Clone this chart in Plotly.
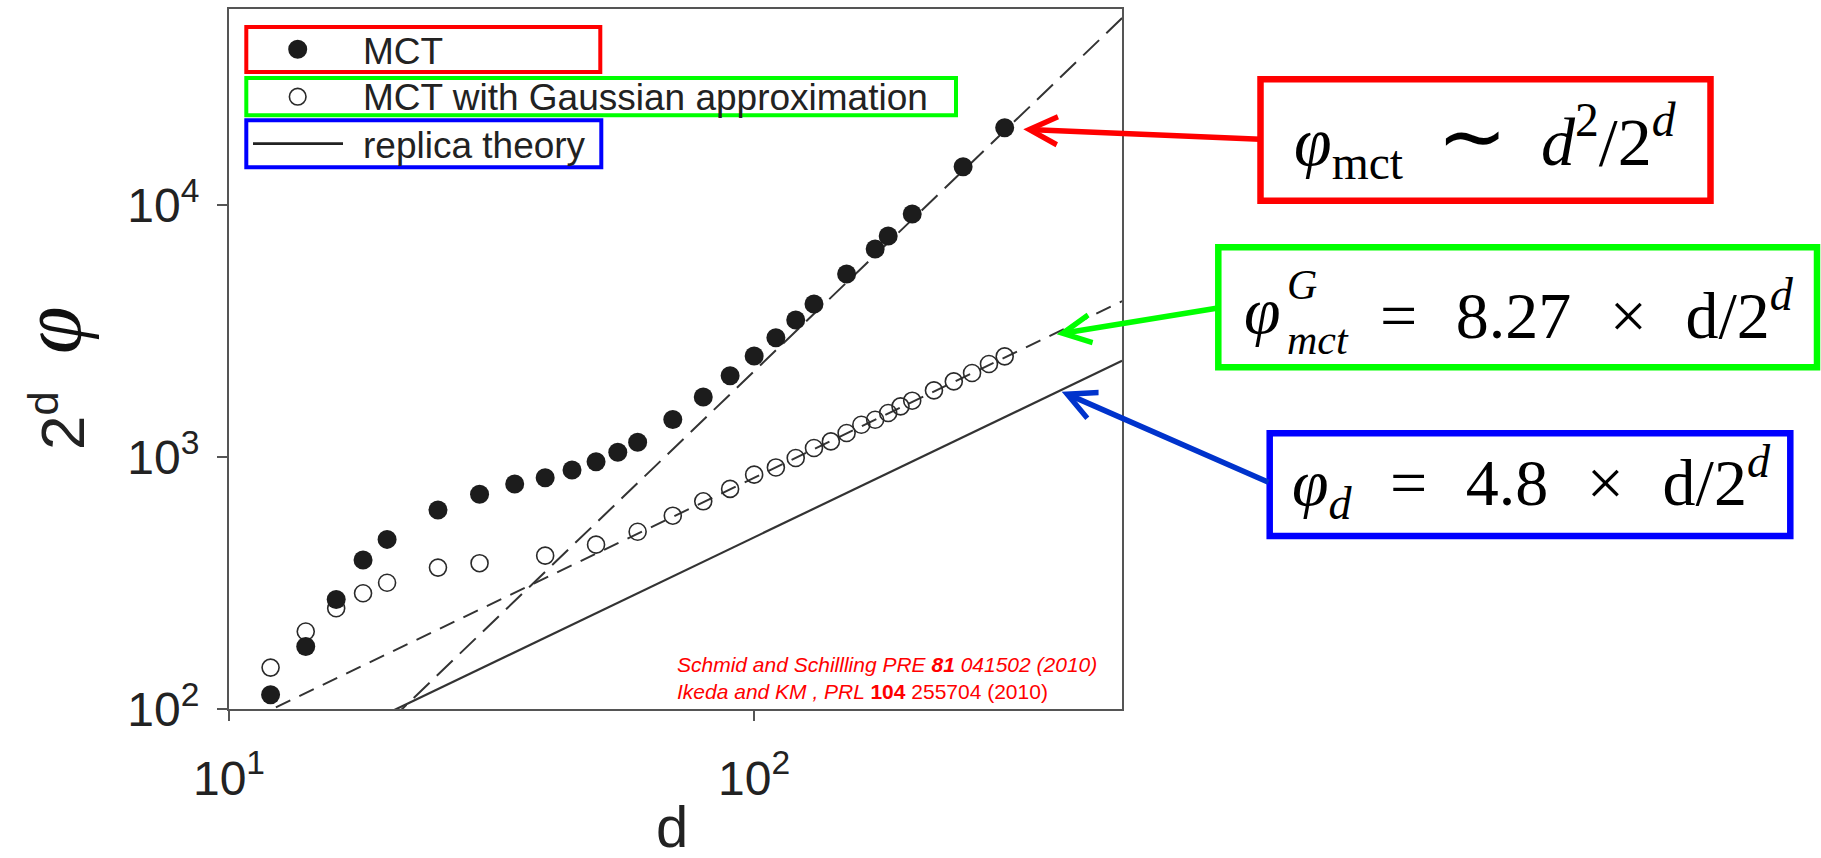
import plotly.graph_objects as go

# ---- data -------------------------------------------------------------
# MCT (full numerical solution), 2^d * phi versus dimension d
mct_d = [12, 14, 16, 18, 20, 25, 30, 35, 40, 45, 50, 55, 60, 70, 80, 90,
         100, 110, 120, 130, 150, 170, 180, 200, 250, 300]
mct_val = [114, 177, 272, 390, 471, 616, 711, 781, 828, 888, 958, 1045,
           1145, 1408, 1730, 2102, 2517, 2974, 3497, 4047, 5323, 6690,
           7534, 9211, 14190, 20260]

# MCT with Gaussian approximation
gauss_d = [12, 14, 16, 18, 20, 25, 30, 40, 50, 60, 70, 80, 90, 100, 110,
           120, 130, 140, 150, 160, 170, 180, 190, 200, 220, 240, 260, 280, 300]
gauss_val = [146, 203, 251, 288, 317, 364, 379, 406, 449, 505, 585, 667,
             747, 851, 909, 991, 1086, 1153, 1245, 1343, 1406, 1495, 1588,
             1673, 1838, 1995, 2154, 2339, 2507]

# asymptotic laws drawn across the whole d range
line_d = [10, 502]
mct_coef = 0.219      # phi_mct ~ d^2 / 2^d
gauss_coef = 8.27     # phi^G_mct = 8.27 d / 2^d
replica_coef = 4.8    # phi_d = 4.8 d / 2^d
mct_law = [mct_coef * d ** 2 for d in line_d]
gauss_law = [gauss_coef * d for d in line_d]
replica_law = [replica_coef * d for d in line_d]

x_tickvals = [10, 100]
x_ticktext = ["10<sup>1</sup>", "10<sup>2</sup>"]
y_tickvals = [100, 1000, 10000]
y_ticktext = ["10<sup>2</sup>", "10<sup>3</sup>", "10<sup>4</sup>"]

# ---- page geometry ----------------------------------------------------
W, H = 1821, 858
ML, MR, MT, MB = 229, 699, 9, 149
PW = W - ML - MR
PH = H - MT - MB


def px(X):
    return (X - ML) / PW


def py(Y):
    return (MT + PH - Y) / PH


AX = "#555555"
INK = "#222222"
SANS = "Liberation Sans, Arial, sans-serif"
NARROW = "Liberation Sans Narrow, Liberation Sans, Arial, sans-serif"
SERIF = "Liberation Serif, Times New Roman, serif"

fig = go.Figure()

fig.add_trace(go.Scatter(x=line_d, y=mct_law, mode="lines",
                         line=dict(color="#333333", width=2, dash="22px,10px"),
                         hoverinfo="skip", showlegend=False))
fig.add_trace(go.Scatter(x=line_d, y=gauss_law, mode="lines",
                         line=dict(color="#333333", width=2, dash="16px,10px"),
                         hoverinfo="skip", showlegend=False))
fig.add_trace(go.Scatter(x=line_d, y=replica_law, mode="lines",
                         line=dict(color="#333333", width=2.2),
                         name="replica theory", showlegend=False))
fig.add_trace(go.Scatter(x=gauss_d, y=gauss_val, mode="markers",
                         marker=dict(symbol="circle-open", size=17, color="#2a2a2a",
                                     line=dict(width=1.6)),
                         name="MCT with Gaussian approximation", showlegend=False))
fig.add_trace(go.Scatter(x=mct_d, y=mct_val, mode="markers",
                         marker=dict(symbol="circle", size=19, color="#1c1c1c",
                                     line=dict(width=0)),
                         name="MCT", showlegend=False))

shapes = []
annotations = []


def rect(x0, y0, x1, y1, color, width):
    shapes.append(dict(type="rect", xref="paper", yref="paper",
                       x0=px(x0), x1=px(x1), y0=py(y0), y1=py(y1),
                       line=dict(color=color, width=width), layer="above"))


def text(X, Y, s, size, family=SANS, color=INK, xanchor="left", yanchor="middle",
         angle=0, align="left"):
    annotations.append(dict(x=px(X), y=py(Y), xref="paper", yref="paper", text=s,
                            showarrow=False, xanchor=xanchor, yanchor=yanchor,
                            textangle=angle, align=align,
                            font=dict(size=size, family=family, color=color)))


# ---- legend, drawn by hand inside the axes -----------------------------
rect(246.3, 27, 600.3, 72, "#ff0000", 4)
rect(246.3, 78, 956, 115.3, "#00ff00", 4)
rect(246.3, 120.3, 601.3, 167.3, "#0000ff", 4)

r = 9.5
shapes.append(dict(type="circle", xref="paper", yref="paper",
                   xsizemode="pixel", ysizemode="pixel",
                   xanchor=px(297.7), yanchor=py(49.3),
                   x0=-r, x1=r, y0=-r, y1=r,
                   fillcolor="#1c1c1c", line=dict(width=0)))
r = 8.3
shapes.append(dict(type="circle", xref="paper", yref="paper",
                   xsizemode="pixel", ysizemode="pixel",
                   xanchor=px(297.7), yanchor=py(96.7),
                   x0=-r, x1=r, y0=-r, y1=r,
                   line=dict(color="#2a2a2a", width=1.6)))
shapes.append(dict(type="line", xref="paper", yref="paper",
                   x0=px(253), x1=px(343), y0=py(143.7), y1=py(143.7),
                   line=dict(color="#222222", width=2.7)))

text(361, 51, "MCT", 37)
text(361, 98, "MCT with Gaussian approximation", 37)
text(361, 145, "replica theory", 37)

# ---- reference line in the corner --------------------------------------
text(675, 678,
     "<i>Schmid and Schillling PRE <b>81</b> 041502 (2010)</i><br>"
     "<i>Ikeda and KM , PRL </i><b>104</b> 255704 (2010)",
     21, color="#ff0000")

# ---- axis titles --------------------------------------------------------
text(672, 826, "d", 58, xanchor="center")
text(58, 421, "2<sup>d</sup>", 62, xanchor="center", angle=-90)
text(1, 330, "<i>φ</i>", 86, family=SERIF, xanchor="left", angle=-90,
     color="#111111")

# ---- scaling laws with call-out arrows ----------------------------------
rect(1260.5, 79.3, 1710.5, 200.7, "#ff0000", 6.5)
rect(1218.3, 247.3, 1817, 367.3, "#00ff00", 6.5)
rect(1269.7, 433.3, 1790.3, 536, "#0000ff", 6.5)

GAP = "\u2002\u200a"
BLACK = "#000000"
text(1292, 139,
     "<i>φ</i><sub>mct</sub>\u2002<span style='font-size:84px'>∼</span>\u2002"
     "<i>d</i><sup>2</sup>/2<sup><i>d</i></sup>",
     68, family=SERIF, color=BLACK)

# phi with stacked G / mct indices, then the right-hand side
text(1242, 310, "<i>φ</i>", 66, family=SERIF, color=BLACK)
text(1285, 312, "<i>G</i><br><i>mct</i>", 42, family=SERIF, color=BLACK)
text(1378, 310,
     "=" + GAP + "8.27" + GAP + "×" + GAP + "d/2<sup><i>d</i></sup>",
     66, family=SERIF, color=BLACK)

text(1290, 482,
     "<i>φ</i><sub><i>d</i></sub>" + GAP + "=" + GAP + "4.8" + GAP + "×" + GAP
     + "d/2<sup><i>d</i></sup>",
     66, family=SERIF, color=BLACK)


def arrow(tipX, tipY, tailX, tailY, color):
    annotations.append(dict(x=px(tipX), y=py(tipY), xref="paper", yref="paper",
                            text="", showarrow=True, arrowhead=5, arrowsize=1,
                            arrowwidth=5.5, arrowcolor=color,
                            ax=tailX - tipX, ay=tailY - tipY,
                            axref="pixel", ayref="pixel", standoff=0))


arrow(1023.3, 129.3, 1261.7, 139.3, "#ff0000")
arrow(1056.7, 334.3, 1218, 308, "#00ff00")
arrow(1061.7, 391.7, 1270, 483, "#0033cc")

axis_common = dict(type="log", showgrid=False, zeroline=False, showline=True,
                   linecolor=AX, linewidth=2, mirror=True, ticks="outside",
                   ticklen=10, tickwidth=1.5, tickcolor=AX, automargin=False,
                   tickfont=dict(family=NARROW, size=48, color=INK))

fig.update_layout(
    width=W, height=H,
    margin=dict(l=ML, r=MR, t=MT, b=MB, pad=0),
    paper_bgcolor="white", plot_bgcolor="white",
    template="none",
    showlegend=False,
    xaxis=dict(range=[1, 2.7005], tickvals=x_tickvals, ticktext=x_ticktext,
               ticklabelstandoff=16, **axis_common),
    yaxis=dict(range=[2, 4.7778], tickvals=y_tickvals, ticktext=y_ticktext,
               ticklabelstandoff=8, **axis_common),
    shapes=shapes,
    annotations=annotations,
)

fig.write_html("out.html")
